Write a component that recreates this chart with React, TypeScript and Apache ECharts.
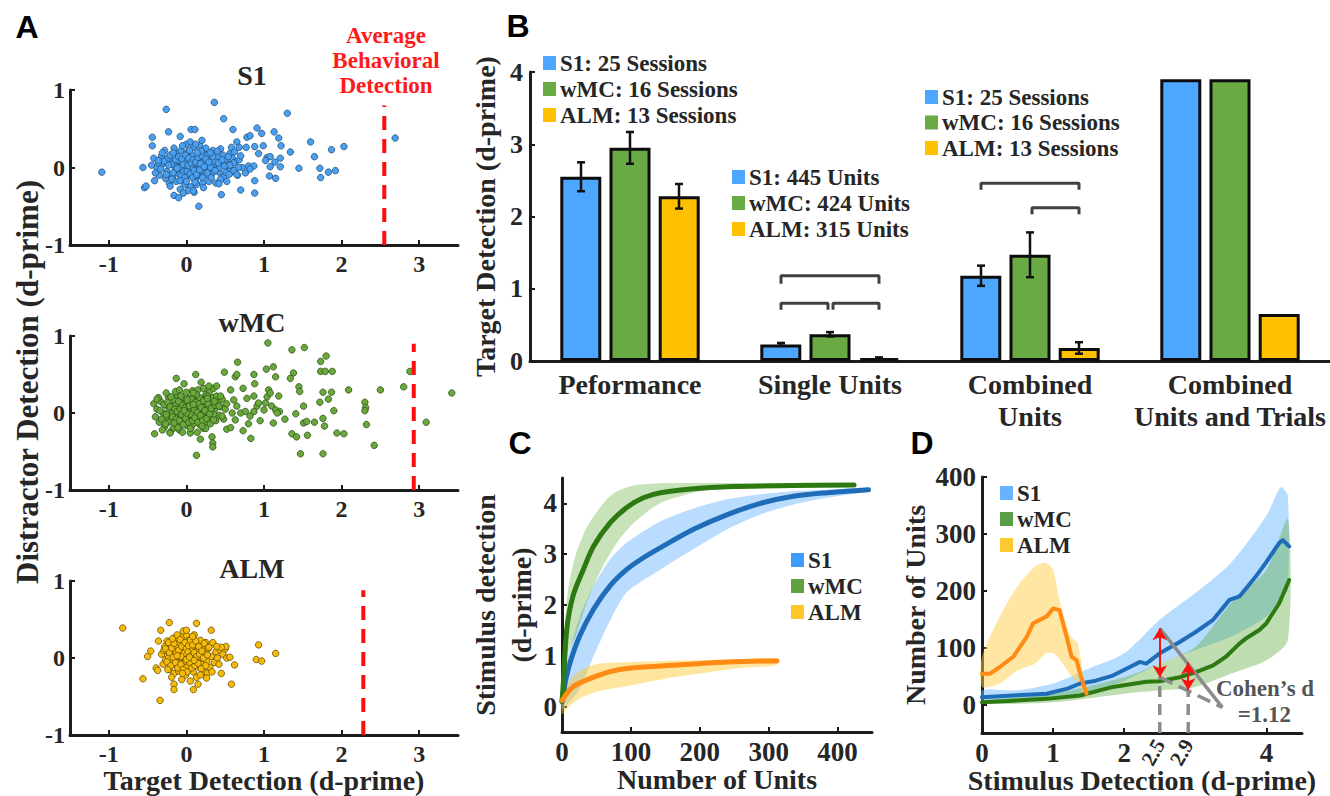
import React, { useEffect, useRef } from 'react';
import * as echarts from 'echarts';

const SERIF = "'Liberation Serif', 'Times New Roman', Times, serif";
const SANS = "'Liberation Sans', Arial, Helvetica, sans-serif";
const INK = '#262626';
const AXIS = '#1c1c1c';

const regionNames = ['S1', 'wMC', 'ALM'];

// ---------------- Panel A : single-unit target vs distractor d-prime ----------------
const s1Points: number[][] = [
  [-0.3, 0.05], [-0.25, -0.05], [-0.2, 0.1], [-0.18, -0.12], [-0.15, 0.02], [-0.12, 0.18], [-0.1, -0.08], [-0.08, 0.06],
  [-0.05, -0.02], [-0.03, 0.12], [0, 0], [0.02, -0.1], [0.04, 0.08], [0.06, -0.04], [0.08, 0.15], [0.1, 0.02],
  [0.12, -0.15], [0.14, 0.05], [0.16, -0.06], [0.18, 0.1], [0.2, -0.02], [0.22, 0.2], [0.24, -0.1], [0.26, 0.04],
  [0.28, -0.04], [0.3, 0.12], [0.33, -0.08], [0.36, 0.02], [0.4, 0.14], [0.42, -0.06], [0.45, 0.06], [0.48, -0.12],
  [0.5, 0.1], [0.53, 0.0], [0.56, 0.18], [0.6, -0.05], [0.63, 0.08], [0.66, -0.1], [-0.35, -0.1], [-0.32, 0.15],
  [-0.28, 0.22], [-0.22, -0.2], [-0.16, 0.25], [-0.13, -0.18], [-0.07, 0.22], [-0.02, -0.22], [0.01, 0.2], [0.05, -0.25],
  [0.09, 0.26], [0.13, -0.22], [0.17, 0.28], [0.21, -0.2], [0.25, 0.25], [0.29, -0.18], [0.34, 0.22], [0.38, -0.2],
  [0.44, 0.24], [0.52, -0.18], [0.58, 0.26], [-0.06, 0.03], [-0.04, -0.05], [-0.01, 0.07], [0.03, 0.02], [0.07, -0.01],
  [-0.09, 0.0], [-0.11, 0.09], [0.11, 0.1], [0.15, -0.1], [-0.14, -0.03], [-0.19, 0.04], [-0.24, 0.12], [-0.27, -0.14],
  [0.19, 0.0], [0.23, 0.08], [0.27, 0.16], [0.31, 0.0], [0.35, 0.08], [0.39, -0.02], [0.43, 0.0], [0.47, 0.16],
  [0.51, -0.06], [0.55, 0.04], [0.59, 0.12], [0.62, 0.2], [0.68, 0.1], [0.72, 0.0], [0.7, 0.15], [-0.38, 0.0],
  [-0.42, 0.12], [0.0, 0.3], [0.05, 0.33], [-0.05, 0.28], [0.12, 0.3], [0.2, 0.35], [0.1, -0.32], [0.02, -0.3],
  [-0.08, -0.28],
  [-0.33, -0.02], [-0.29, 0.08], [-0.26, -0.09], [-0.23, 0.03], [-0.21, 0.16], [-0.17, -0.07], [-0.14, 0.1], [-0.12, -0.01],
  [-0.1, 0.14], [-0.07, -0.11], [-0.06, 0.11], [-0.04, 0.04], [-0.02, -0.13], [-0.01, 0.16], [0.01, -0.05], [0.02, 0.03],
  [0.03, 0.12], [0.05, -0.08], [0.06, 0.06], [0.08, -0.13], [0.09, 0.1], [0.1, -0.04], [0.12, 0.07], [0.13, -0.09],
  [0.15, 0.13], [0.17, -0.03], [0.18, 0.05], [0.2, 0.15], [0.21, -0.13], [0.23, 0.01], [0.25, 0.11], [0.27, -0.07],
  [0.29, 0.07], [0.32, -0.13], [0.34, 0.14], [0.37, -0.04], [0.41, 0.06], [0.44, -0.15], [0.46, 0.1], [0.49, 0.02],
  [-0.17, 0.19], [-0.08, -0.17], [0.04, 0.22], [0.11, -0.19], [0.19, 0.21], [0.31, 0.19], [0.4, 0.21], [0.54, 0.14],
  [0.57, -0.02], [0.61, 0.06], [-0.36, 0.06], [-0.31, 0.19], [-0.19, -0.15], [0.0, -0.18], [0.14, 0.19],
  [-1.09, -0.06], [-0.56, 0], [-0.54, -0.26], [-0.52, -0.24], [-0.44, 0.39], [-0.44, 0.28], [-0.4, -0.07], [-0.41, -0.17],
  [-0.36, 0.09], [-0.45, 0.03], [-0.26, 0.75], [-0.23, 0.46], [-0.16, -0.36], [-0.1, -0.39], [-0.21, -0.24], [-0.04, -0.33],
  [-0.08, 0.4], [0.06, 0.49], [0.11, 0.49], [0.16, -0.5], [0.09, -0.3], [0.22, -0.26], [0.36, 0.84], [0.48, 0.63],
  [0.6, 0.49], [0.45, -0.35], [0.42, -0.21], [0.7, -0.29], [0.88, -0.33], [0.88, -0.17], [0.91, 0.51], [0.97, 0.44],
  [1.13, 0.46], [1.19, 0.38], [1.3, 0.7], [1.22, 0.28], [1.34, 0.2], [1.07, -0.11], [1.15, -0.14], [1.45, -0.01],
  [1.6, 0.33], [1.65, 0.14], [1.72, -0.01], [1.73, -0.13], [1.83, -0.06], [1.92, -0.04], [1.87, 0.23], [2.03, 0.27],
  [2.69, 0.38], [0.65, 0.33], [0.78, 0.39], [0.82, 0.41], [0.68, 0.26], [0.77, 0.26], [0.88, 0.27], [0.99, 0.28],
  [0.93, 0.18], [1.04, 0.13], [1.08, 0.14], [1.02, 0.09], [1.21, 0.01], [1.08, 0.01], [1.14, 0.07], [1.21, 0.12],
  [0.8, 0.02], [0.87, 0.02], [0.76, -0.07], [0.82, -0.02], [0.67, 0.0], [0.61, -0.04], [0.56, 0.03], [0.55, -0.09],
  [0.65, -0.09],
];

const wmcPoints: number[][] = [
  [-0.42, 0.12], [-0.4, -0.05], [-0.38, 0.05], [-0.35, -0.12], [-0.33, 0.15], [-0.3, 0.0], [-0.28, -0.18], [-0.27, 0.1],
  [-0.25, -0.06], [-0.23, 0.2], [-0.22, 0.03], [-0.2, -0.1], [-0.19, 0.14], [-0.17, -0.2], [-0.16, 0.06], [-0.15, -0.03],
  [-0.13, 0.24], [-0.12, 0.1], [-0.11, -0.14], [-0.1, 0.02], [-0.09, -0.22], [-0.08, 0.17], [-0.07, -0.06], [-0.06, 0.08],
  [-0.05, -0.12], [-0.04, 0.0], [-0.03, 0.13], [-0.02, -0.04], [-0.01, 0.05], [0, -0.16], [0.01, 0.1], [0.02, -0.02],
  [0.03, 0.19], [0.04, -0.09], [0.05, 0.04], [0.06, -0.19], [0.07, 0.12], [0.08, -0.05], [0.09, 0.07], [0.1, -0.12],
  [0.11, 0.22], [0.12, 0.0], [0.13, -0.08], [0.14, 0.15], [0.15, -0.02], [0.16, 0.09], [0.17, -0.15], [0.18, 0.03],
  [0.19, 0.18], [0.2, -0.07], [0.21, 0.06], [0.22, -0.2], [0.23, 0.13], [0.24, -0.01], [0.25, 0.24], [0.26, -0.11],
  [0.27, 0.08], [0.28, -0.04], [0.29, 0.16], [0.3, 0.01], [0.31, -0.14], [0.32, 0.11], [0.33, -0.06], [0.34, 0.2],
  [0.36, 0.04], [0.38, -0.1], [0.4, 0.14], [0.42, -0.03], [0.44, 0.08], [0.46, 0.18], [-0.36, 0.2], [-0.31, -0.22],
  [-0.26, 0.26], [-0.21, -0.25], [-0.14, 0.28], [-0.09, 0.3], [0.0, 0.27], [0.08, 0.29], [0.15, 0.3], [0.22, 0.32],
  [0.3, 0.28], [0.05, -0.26], [-0.05, -0.25], [0.14, -0.25], [0.25, -0.2], [-0.18, 0.0], [-0.14, 0.12], [-0.03, -0.1],
  [0.06, 0.15], [0.12, 0.05], [0.17, 0.2], [0.2, 0.1], [-0.06, 0.2], [0.0, 0.08], [-0.1, -0.05], [0.09, -0.14],
  [0.26, 0.18], [0.35, -0.02], [0.39, 0.22], [0.48, -0.08], [0.5, 0.05], [0.52, 0.12],
  [-0.34, 0.03], [-0.32, -0.08], [-0.29, 0.11], [-0.26, -0.02], [-0.24, 0.14], [-0.23, -0.12], [-0.21, 0.08], [-0.18, -0.05],
  [-0.17, 0.17], [-0.15, 0.05], [-0.13, -0.08], [-0.12, 0.02], [-0.1, 0.15], [-0.09, -0.1], [-0.08, 0.05], [-0.06, -0.02],
  [-0.05, 0.1], [-0.04, -0.15], [-0.02, 0.07], [-0.01, -0.07], [0.01, 0.15], [0.02, 0.01], [0.03, -0.12], [0.04, 0.09],
  [0.06, -0.02], [0.07, 0.18], [0.08, -0.1], [0.1, 0.04], [0.11, -0.06], [0.12, 0.14], [0.14, 0.01], [0.15, -0.12],
  [0.16, 0.12], [0.18, -0.03], [0.19, 0.07], [0.21, -0.1], [0.22, 0.16], [0.24, 0.03], [0.26, -0.07], [0.28, 0.12],
  [0.3, -0.01], [0.32, 0.06], [0.35, -0.09], [0.37, 0.1], [-0.27, -0.14], [-0.2, 0.21], [-0.07, 0.22], [0.05, -0.2],
  [0.13, 0.24], [0.2, -0.17], [0.27, 0.22], [-0.11, -0.19], [0.0, 0.0], [-0.03, 0.03], [0.09, 0.11], [-0.16, -0.13],
  [-0.41, -0.27], [-0.38, 0.18], [-0.21, -0.26], [-0.13, 0.45], [-0.03, 0.38], [0.12, 0.5], [0.13, -0.55], [0.18, -0.34],
  [0.33, -0.31], [0.34, -0.39], [0.34, -0.44], [0.19, 0.4], [0.49, 0.53], [0.66, 0.66], [0.63, 0.47], [0.65, 0.5],
  [0.73, 0.32], [0.87, 0.5], [0.88, 0.38], [1.05, 0.91], [1.03, 0.57], [1.12, 0.6], [1.15, 0.47], [1.06, 0.3],
  [1.19, 0.22], [0.83, -0.33], [0.73, -0.23], [0.52, -0.21], [0.57, -0.19], [0.8, -0.14], [0.95, -0.1], [1.12, -0.13],
  [1.27, -0.08], [1.2, 0.02], [1.36, 0.82], [1.52, 0.85], [1.38, 0.52], [1.34, 0.45], [1.45, 0.34], [1.46, 0.28],
  [1.41, -0.01], [1.36, -0.27], [1.42, -0.31], [1.47, -0.53], [1.51, 0.09], [1.51, -0.13], [1.55, -0.11], [1.56, -0.29],
  [1.65, -0.12], [1.73, 0.67], [1.8, 0.74], [1.73, 0.54], [1.79, 0.54], [1.88, 0.54], [1.76, 0.27], [1.87, 0.27],
  [1.72, 0.14], [1.83, 0.18], [1.76, -0.07], [1.78, -0.17], [1.9, 0.03], [1.76, -0.53], [1.94, -0.26], [2.03, -0.27],
  [2.09, 0.3], [2.3, 0.14], [2.31, 0.07], [2.3, 0.03], [2.32, -0.15], [2.42, -0.42], [2.5, 0.3], [2.8, 0.34],
  [2.88, 0.54], [3.09, -0.12], [3.42, 0.26],
  [0.57, 0.3], [0.61, 0.17], [0.65, 0.09], [0.59, 0.0], [0.7, 0.0], [0.76, 0.02], [0.78, 0.19], [0.87, 0.22],
  [0.91, 0.09], [0.93, 0.13], [1.0, 0.04], [1.02, 0.13], [1.04, 0.21], [1.08, 0.26], [1.1, 0.09], [1.15, 0.04],
  [1.17, 0.0], [0.87, 0.02], [0.82, -0.04], [0.63, -0.09], [0.46, -0.04], [0.42, 0.09], [0.44, 0.22], [0.35, 0.32],
  [0.29, 0.35], [0.39, 0.35], [0.27, 0.19], [0.36, 0.15], [0.09, 0.26], [0.01, 0.17],
];

const almPoints: number[][] = [
  [-0.32, 0.05], [-0.3, -0.08], [-0.28, 0.15], [-0.27, -0.02], [-0.25, 0.22], [-0.24, 0.08], [-0.22, -0.15], [-0.21, 0.03],
  [-0.2, 0.18], [-0.18, -0.06], [-0.17, 0.11], [-0.16, -0.2], [-0.15, 0.26], [-0.14, 0.0], [-0.13, -0.1], [-0.12, 0.14],
  [-0.11, 0.05], [-0.1, -0.17], [-0.09, 0.2], [-0.08, -0.03], [-0.07, 0.09], [-0.06, -0.12], [-0.05, 0.28], [-0.04, 0.02],
  [-0.03, -0.07], [-0.02, 0.16], [-0.01, -0.22], [0, 0.06], [0.01, -0.01], [0.02, 0.21], [0.03, -0.14], [0.04, 0.1],
  [0.05, 0.0], [0.06, -0.09], [0.07, 0.25], [0.08, 0.04], [0.09, -0.18], [0.1, 0.13], [0.11, -0.05], [0.12, 0.08],
  [0.13, -0.25], [0.14, 0.18], [0.15, -0.02], [0.16, 0.1], [0.17, -0.12], [0.18, 0.23], [0.19, 0.01], [0.2, -0.08],
  [0.21, 0.15], [0.22, -0.18], [0.24, 0.06], [0.26, -0.04], [0.28, 0.12], [0.3, -0.12], [0.32, 0.02], [0.34, 0.2],
  [0.36, -0.06], [0.38, 0.08], [0.4, 0.0], [-0.19, -0.25], [-0.06, -0.28], [0.05, -0.3], [0.0, 0.3], [-0.12, 0.3],
  [0.1, 0.3], [-0.02, 0.0], [0.03, 0.05], [-0.05, 0.1], [0.06, 0.12], [-0.09, -0.08], [0.08, -0.06], [-0.15, 0.07],
  [0.14, 0.03], [0.0, -0.12], [-0.03, 0.12], [0.11, 0.2], [-0.23, 0.0], [0.25, 0.2], [0.27, -0.2], [-0.29, 0.1],
  [0.33, -0.18], [0.44, 0.1], [0.47, 0.05], [0.5, 0.12], [0.42, -0.08],
  [-0.27, 0.12], [-0.25, -0.05], [-0.23, 0.2], [-0.22, 0.07], [-0.2, -0.1], [-0.19, 0.13], [-0.17, 0.01], [-0.16, 0.19],
  [-0.14, -0.06], [-0.13, 0.08], [-0.11, -0.13], [-0.1, 0.1], [-0.09, 0.02], [-0.08, 0.24], [-0.07, -0.08], [-0.06, 0.15],
  [-0.04, -0.15], [-0.03, 0.06], [-0.02, 0.2], [-0.01, -0.04], [0, 0.12], [0.01, -0.18], [0.02, 0.08], [0.03, 0.16],
  [0.04, -0.06], [0.05, 0.23], [0.06, 0.03], [0.07, -0.13], [0.08, 0.17], [0.09, -0.01], [0.1, 0.07], [0.11, -0.1],
  [0.12, 0.22], [0.13, 0.02], [0.15, -0.07], [0.16, 0.15], [0.17, 0.05], [0.19, -0.14], [0.2, 0.09], [0.22, 0.0],
  [0.23, 0.19], [0.25, -0.1], [0.27, 0.04], [0.29, 0.14], [-0.07, 0.02], [0.0, -0.02], [0.04, 0.01], [-0.12, 0.03],
  [0.1, -0.03], [-0.05, -0.2], [0.08, 0.28], [-0.18, 0.25], [0.18, -0.22], [-0.24, -0.15],
  [-0.82, 0.39], [-0.56, -0.27], [-0.5, 0.02], [-0.46, 0.09], [-0.39, -0.13], [-0.37, -0.16], [-0.34, -0.55], [-0.33, 0.36],
  [-0.36, 0.22], [-0.22, 0.46], [-0.16, -0.34], [-0.16, -0.41], [-0.04, 0.35], [0, 0.36], [0.13, 0.45], [0.32, 0.36],
  [0.09, -0.41], [0.15, -0.34], [0.26, -0.26], [0.45, -0.2], [0.58, -0.34], [0.62, -0.09], [0.51, 0.15], [0.45, 0.14],
  [0.39, 0.15], [0.52, 0.0], [0.56, 0.01], [0.93, 0.17], [0.9, -0.02], [0.97, -0.04], [1.15, 0.06],
];

const behavioralDetection = [2.55, 2.93, 2.28];
const behavioralLineTop = [0.8, 0.9, 0.88];
const aXTicks = [-1, 0, 1, 2, 3];

// ---------------- Panel B : target detection bars ----------------
const barCategories = ['Peformance', 'Single Units', 'Combined\nUnits', 'Combined\nUnits and Trials'];
const s1Bars = [2.55, 0.23, 1.18, 3.9];
const wmcBars = [2.95, 0.37, 1.47, 3.9];
const almBars = [2.28, 0.04, 0.18, 0.65];
const s1Errs = [0.2, 0.02, 0.14, null];
const wmcErrs = [0.22, 0.03, 0.31, null];
const almErrs = [0.17, 0.01, 0.08, null];
const sessionLegend = ['S1: 25 Sessions', 'wMC: 16 Sessions', 'ALM: 13 Sessions'];
const unitLegend = ['S1: 445 Units', 'wMC: 424 Units', 'ALM: 315 Units'];
// significance brackets: [xStart, xEnd, yBar, yTip] in the hidden 0..4 band axis
const brackets = [
  [1.255, 1.745, 1.18, 1.07],
  [1.255, 1.49, 0.8, 0.71],
  [1.515, 1.745, 0.8, 0.71],
  [2.255, 2.745, 2.46, 2.37],
  [2.51, 2.745, 2.12, 2.03],
];

// ---------------- Panel C : detection vs number of units ----------------
const cS1X = [0, 2, 5, 12, 26, 46, 70, 94, 118, 143, 191, 240, 288, 336, 385, 445];
const cS1Y = [0.1, 0.22, 0.5, 0.88, 1.4, 1.92, 2.38, 2.7, 2.93, 3.13, 3.49, 3.78, 4.0, 4.14, 4.21, 4.27];
const cS1BandX = [0, 7, 26, 46, 70, 94, 143, 191, 240, 288, 336, 385, 445];
const cS1Up = [0.4, 0.9, 1.79, 2.38, 2.9, 3.23, 3.65, 3.9, 4.08, 4.18, 4.24, 4.27, 4.3];
const cS1Lo = [-0.05, 0.03, 0.35, 1.0, 1.7, 2.25, 2.7, 3.1, 3.49, 3.78, 3.98, 4.11, 4.24];
const cWmcX = [0, 2, 7, 16, 31, 46, 70, 94, 118, 143, 191, 240, 336, 424];
const cWmcY = [0.1, 0.48, 1.53, 2.18, 2.7, 3.16, 3.62, 3.92, 4.11, 4.21, 4.29, 4.33, 4.35, 4.36];
const cWmcBandX = [0, 5, 10, 20, 35, 50, 65, 80, 100, 125, 150, 200, 250, 300, 424];
const cWmcUp = [0.5, 1.8, 2.4, 3.0, 3.5, 3.82, 4.08, 4.24, 4.34, 4.38, 4.4, 4.4, 4.4, 4.4, 4.4];
const cWmcLo = [0.1, 0.8, 1.1, 1.4, 2.0, 2.5, 2.9, 3.23, 3.56, 3.85, 4.05, 4.24, 4.3, 4.33, 4.35];
const cAlmX = [0, 16, 46, 70, 94, 143, 191, 240, 312];
const cAlmY = [0.12, 0.39, 0.58, 0.69, 0.75, 0.8, 0.84, 0.88, 0.9];
const cAlmBandX = [0, 10, 25, 50, 100, 150, 200, 250, 312];
const cAlmUp = [0.25, 0.5, 0.7, 0.84, 0.88, 0.9, 0.91, 0.93, 0.95];
const cAlmLo = [-0.15, 0.0, 0.15, 0.29, 0.42, 0.55, 0.65, 0.75, 0.82];

// ---------------- Panel D : units vs stimulus detection ----------------
const dS1X = [0, 0.44, 0.91, 1.2, 1.38, 1.6, 1.84, 2.08, 2.22, 2.31, 2.5, 2.78, 3.01, 3.25, 3.48, 3.62, 3.85, 3.99, 4.18, 4.23, 4.32];
const dS1Y = [13, 16, 19, 28, 37, 42, 51, 66, 75, 72, 90, 110, 128, 149, 184, 190, 225, 249, 284, 289, 278];
const dS1BandX = [0, 0.5, 1, 1.5, 2, 2.5, 3, 3.5, 4, 4.2, 4.3];
const dS1Up = [25, 25, 37, 63, 90, 149, 196, 249, 332, 382, 367];
const dS1Lo = [7, 8, 13, 22, 42, 72, 96, 119, 155, 185, 202];
const dWmcX = [0, 0.91, 1.38, 1.84, 2.31, 2.5, 2.78, 3.01, 3.25, 3.43, 3.62, 3.71, 3.9, 4.0, 4.18, 4.32];
const dWmcY = [4, 10, 16, 31, 40, 41, 48, 57, 69, 84, 107, 116, 131, 143, 178, 219];
const dWmcBandX = [0, 1, 2, 2.5, 3, 3.5, 4, 4.3];
const dWmcUp = [7, 19, 48, 72, 101, 178, 237, 326];
const dWmcLo = [1, 4, 19, 25, 31, 54, 78, 113];
const dAlmX = [0, 0.11, 0.25, 0.44, 0.63, 0.72, 0.91, 1.0, 1.09, 1.19, 1.26, 1.33, 1.38, 1.47];
const dAlmY = [54, 54, 66, 84, 119, 143, 155, 169, 166, 119, 84, 78, 54, 19];
const dAlmBandX = [0, 0.25, 0.5, 0.75, 0.9, 1.0, 1.1, 1.25, 1.35, 1.45];
const dAlmUp = [84, 155, 208, 243, 249, 237, 178, 119, 107, 19];
const dAlmLo = [31, 37, 60, 72, 90, 90, 78, 51, 37, 13];
const cohenMarks = [2.5, 2.9];
const cohenArrows = [[2.5, 134, 48], [2.9, 74, 25]];
const cohenApex = [3.38, -5];
const cohenText = ['Cohen’s d', '=1.12'];

const barColors = ['#4da6ff', '#6aaa45', '#ffc000'];

function zip(xs: number[], ys: number[]) {
  return xs.map((x, i) => [x, ys[i]]);
}

function boldText(size: number, extra: any = {}) {
  return { color: INK, fontFamily: SERIF, fontWeight: 'bold', fontSize: size, ...extra };
}

function axisStyle(labelSize: number, labelExtra: any = {}) {
  return {
    axisLine: { show: true, onZero: false, lineStyle: { color: AXIS, width: 3 } },
    axisTick: { show: true, inside: true, length: 5, lineStyle: { color: AXIS, width: 2 } },
    splitLine: { show: false },
    axisLabel: { ...boldText(labelSize), ...labelExtra },
  };
}

function bandSeries(xs: number[], up: number[], lo: number[], color: string, xi: number, yi: number) {
  return {
    type: 'custom',
    xAxisIndex: xi,
    yAxisIndex: yi,
    silent: true,
    z: 1,
    data: xs.map((x, i) => [x, up[i], lo[i]]),
    encode: { x: 0, y: [1, 2] },
    renderItem: (params: any, api: any) => {
      if (params.dataIndex !== 0) return { type: 'group', children: [] };
      const pts: number[][] = [];
      xs.forEach((x, i) => pts.push(api.coord([x, up[i]])));
      for (let i = xs.length - 1; i >= 0; i--) pts.push(api.coord([xs[i], lo[i]]));
      return { type: 'polygon', shape: { points: pts, smooth: 0.25 }, style: { fill: color } };
    },
  };
}

function errSeries(vals: number[], errs: (number | null)[], offset: number) {
  const data: number[][] = [];
  vals.forEach((v, i) => {
    const e = errs[i];
    if (e != null) data.push([i + 0.5 + offset, v, e]);
  });
  return {
    type: 'custom',
    xAxisIndex: 4,
    yAxisIndex: 3,
    z: 6,
    silent: true,
    data,
    encode: { x: 0, y: 1 },
    renderItem: (params: any, api: any) => {
      const x = api.value(0);
      const v = api.value(1);
      const e = api.value(2);
      const top = api.coord([x, v + e]);
      const bot = api.coord([x, v - e]);
      const cap = 4;
      const st = { stroke: '#111', lineWidth: 2.5 };
      return {
        type: 'group',
        children: [
          { type: 'line', shape: { x1: top[0], y1: top[1], x2: bot[0], y2: bot[1] }, style: st },
          { type: 'line', shape: { x1: top[0] - cap, y1: top[1], x2: top[0] + cap, y2: top[1] }, style: st },
          { type: 'line', shape: { x1: bot[0] - cap, y1: bot[1], x2: bot[0] + cap, y2: bot[1] }, style: st },
        ],
      };
    },
  };
}

function legendBlock(x: number, y0: number, dy: number, labels: string[], colors: string[], size = 23) {
  const out: any[] = [];
  labels.forEach((label, i) => {
    const y = y0 + i * dy;
    out.push({ type: 'rect', shape: { x, y: y - 7, width: 13, height: 14 }, style: { fill: colors[i] } });
    out.push({
      type: 'text',
      x: x + 17,
      y,
      style: {
        text: label, fill: INK, fontFamily: SERIF, fontWeight: 'bold', fontSize: size,
        align: 'left', verticalAlign: 'middle',
      },
    });
  });
  return out;
}

function textEl(text: string, x: number, y: number, size: number, opts: any = {}) {
  const { family = SERIF, fill = INK, rotation = 0, lineHeight } = opts;
  return {
    type: 'text',
    x,
    y,
    rotation,
    style: {
      text, fill, fontFamily: family, fontWeight: 'bold', fontSize: size,
      align: 'center', verticalAlign: 'middle', lineHeight,
    },
  };
}

export default function App() {
  const ref = useRef<HTMLDivElement>(null);

  useEffect(() => {
    if (!ref.current) return;
    const chart = echarts.init(ref.current, undefined, { renderer: 'svg' });

    const aGrids = [
      { left: 70, top: 90, width: 388, height: 155 },
      { left: 70, top: 336, width: 388, height: 154 },
      { left: 70, top: 581, width: 388, height: 154 },
    ];
    const scatterSets = [s1Points, wmcPoints, almPoints];
    const scatterFill = ['#4a9ff0', '#6aa83c', '#f6bb0a'];
    const scatterBorder = ['#24547f', '#2f5419', '#6b4f00'];
    const titleY = [75, 322, 568];

    const xAxes: any[] = [];
    const yAxes: any[] = [];
    aGrids.forEach((_, k) => {
      xAxes.push({
        type: 'value', gridIndex: k, min: -1.5, max: 3.5,
        ...axisStyle(24, { margin: 7, customValues: aXTicks }),
        axisTick: { show: true, inside: true, length: 5, lineStyle: { color: AXIS, width: 2 }, customValues: aXTicks },
        name: k === 2 ? 'Target Detection (d-prime)' : '',
        nameLocation: 'middle',
        nameGap: 27,
        nameTextStyle: boldText(28),
      });
      yAxes.push({
        type: 'value', gridIndex: k, min: -1, max: 1, interval: 1,
        ...axisStyle(24, { margin: 5 }),
      });
    });

    // B: category axis + hidden numeric band axis
    xAxes.push({
      type: 'category', gridIndex: 3, data: barCategories,
      axisLine: { show: true, onZero: false, lineStyle: { color: AXIS, width: 3 } },
      axisTick: { show: false },
      axisLabel: { ...boldText(28), lineHeight: 32, margin: 7, interval: 0 },
    });
    xAxes.push({ type: 'value', gridIndex: 3, min: 0, max: 4, show: false });
    yAxes.push({
      type: 'value', gridIndex: 3, min: 0, max: 4, interval: 1,
      ...axisStyle(26, { margin: 7 }),
      name: 'Target Detection (d-prime)', nameLocation: 'middle', nameGap: 25,
      nameTextStyle: boldText(28),
    });

    // C
    const cTicks = [0, 100, 200, 300, 400];
    const cYTicks = [0, 1, 2, 3, 4];
    xAxes.push({
      type: 'value', gridIndex: 4, min: 0, max: 450,
      ...axisStyle(27, { margin: 6, customValues: cTicks }),
      axisTick: { show: true, inside: true, length: 5, lineStyle: { color: AXIS, width: 2 }, customValues: cTicks },
      name: 'Number of Units', nameLocation: 'middle', nameGap: 33, nameTextStyle: boldText(28),
    });
    yAxes.push({
      type: 'value', gridIndex: 4, min: -0.5, max: 4.5,
      ...axisStyle(27, { margin: 5, customValues: cYTicks }),
      axisTick: { show: true, inside: true, length: 5, lineStyle: { color: AXIS, width: 2 }, customValues: cYTicks },
      name: 'Stimulus detection\n(d-prime)', nameLocation: 'middle', nameGap: 13,
      nameTextStyle: boldText(28, { lineHeight: 36 }),
    });

    // D
    const dTicks = [0, 1, 2, 4];
    const dYTicks = [0, 100, 200, 300, 400];
    xAxes.push({
      type: 'value', gridIndex: 5, min: 0, max: 4.5,
      ...axisStyle(27, { margin: 6, customValues: dTicks }),
      axisTick: { show: true, inside: true, length: 5, lineStyle: { color: AXIS, width: 2 }, customValues: dTicks },
      name: 'Stimulus Detection (d-prime)', nameLocation: 'middle', nameGap: 33, nameTextStyle: boldText(28),
    });
    xAxes.push({
      type: 'value', gridIndex: 5, min: 0, max: 4.5, position: 'bottom',
      axisLine: { show: false }, axisTick: { show: false }, splitLine: { show: false },
      axisLabel: { ...boldText(21), rotate: 60, margin: 8, customValues: cohenMarks },
    });
    yAxes.push({
      type: 'value', gridIndex: 5, min: -50, max: 400,
      ...axisStyle(27, { margin: 6, customValues: dYTicks }),
      axisTick: { show: true, inside: true, length: 5, lineStyle: { color: AXIS, width: 2 }, customValues: dYTicks },
      name: 'Number of Units', nameLocation: 'middle', nameGap: 53, nameTextStyle: boldText(28),
    });

    const series: any[] = [];

    // A scatter + behavioral line
    scatterSets.forEach((pts, k) => {
      series.push({
        name: regionNames[k],
        type: 'scatter', xAxisIndex: k, yAxisIndex: k, data: pts, symbolSize: 6.5,
        itemStyle: { color: scatterFill[k], borderColor: scatterBorder[k], borderWidth: 0.8, opacity: 1 },
        z: 3,
      });
      series.push({
        type: 'line', xAxisIndex: k, yAxisIndex: k,
        data: [[behavioralDetection[k], -1], [behavioralDetection[k], behavioralLineTop[k]]],
        showSymbol: false, symbol: 'none',
        lineStyle: { color: '#ff0d0d', width: 4, type: [14, 9] }, z: 4, silent: true,
      });
    });

    // B bars
    const barSets = [s1Bars, wmcBars, almBars];
    const errSets = [s1Errs, wmcErrs, almErrs];
    const offsets = [-0.245, 0, 0.245];
    barSets.forEach((vals, k) => {
      series.push({
        name: regionNames[k],
        type: 'bar', xAxisIndex: 3, yAxisIndex: 3, data: vals,
        barWidth: 41, barGap: '20%',
        itemStyle: { color: barColors[k], borderColor: '#0d0d0d', borderWidth: 3 },
        z: 3,
      });
    });
    barSets.forEach((vals, k) => series.push(errSeries(vals, errSets[k], offsets[k])));
    brackets.forEach(([x1, x2, yb, yt]) => {
      series.push({
        type: 'line', xAxisIndex: 4, yAxisIndex: 3,
        data: [[x1, yt], [x1, yb], [x2, yb], [x2, yt]],
        showSymbol: false, symbol: 'none', silent: true,
        lineStyle: { color: '#404040', width: 3 }, z: 5,
      });
    });

    // C bands and lines
    series.push(bandSeries(cS1BandX, cS1Up, cS1Lo, 'rgba(102,178,255,0.45)', 5, 4));
    series.push(bandSeries(cWmcBandX, cWmcUp, cWmcLo, 'rgba(110,180,70,0.38)', 5, 4));
    series.push(bandSeries(cAlmBandX, cAlmUp, cAlmLo, 'rgba(255,200,40,0.45)', 5, 4));
    const cLines = [
      [cS1X, cS1Y, '#1f6cb8'],
      [cWmcX, cWmcY, '#2d7a12'],
      [cAlmX, cAlmY, '#ff8a14'],
    ] as any[];
    cLines.forEach(([xs, ys, col], k) => {
      series.push({
        name: regionNames[k], type: 'line', xAxisIndex: 5, yAxisIndex: 4, data: zip(xs, ys),
        showSymbol: false, symbol: 'none', smooth: 0.3,
        lineStyle: { color: col, width: 5, cap: 'round' }, z: 3,
      });
    });

    // D bands and lines
    series.push(bandSeries(dS1BandX, dS1Up, dS1Lo, 'rgba(110,185,255,0.5)', 6, 5));
    series.push(bandSeries(dWmcBandX, dWmcUp, dWmcLo, 'rgba(100,175,70,0.42)', 6, 5));
    series.push(bandSeries(dAlmBandX, dAlmUp, dAlmLo, 'rgba(255,205,70,0.5)', 6, 5));
    const dLines = [
      [dS1X, dS1Y, '#1f6cb8'],
      [dWmcX, dWmcY, '#2d7a12'],
      [dAlmX, dAlmY, '#ff8a14'],
    ] as any[];
    dLines.forEach(([xs, ys, col], k) => {
      series.push({
        name: regionNames[k], type: 'line', xAxisIndex: 6, yAxisIndex: 5, data: zip(xs, ys),
        showSymbol: false, symbol: 'none',
        lineStyle: { color: col, width: 4, cap: 'round', join: 'round' }, z: 3,
      });
    });

    // D Cohen's d annotation
    const gray = '#8c8c8c';
    cohenArrows.forEach(([x, , lo]) => {
      series.push({
        type: 'line', xAxisIndex: 6, yAxisIndex: 5, data: [[x, -50], [x, lo]],
        showSymbol: false, symbol: 'none', silent: true,
        lineStyle: { color: gray, width: 3.5, type: [11, 7] }, z: 4,
      });
    });
    series.push({
      type: 'line', xAxisIndex: 6, yAxisIndex: 5,
      data: [[cohenArrows[0][0], cohenArrows[0][1]], cohenApex],
      showSymbol: false, symbol: 'none', silent: true,
      lineStyle: { color: gray, width: 3.5 }, z: 4,
    });
    series.push({
      type: 'line', xAxisIndex: 6, yAxisIndex: 5,
      data: [[cohenArrows[0][0], cohenArrows[0][2]], cohenApex],
      showSymbol: false, symbol: 'none', silent: true,
      lineStyle: { color: gray, width: 3.5, type: [14, 7] }, z: 4,
    });
    series.push({
      type: 'line', xAxisIndex: 6, yAxisIndex: 5, data: [],
      showSymbol: false, symbol: 'none', silent: true,
      markLine: {
        silent: true, symbol: ['arrow', 'arrow'], symbolSize: [11, 12],
        label: { show: false },
        lineStyle: { color: '#ff1010', width: 2, type: 'solid' },
        data: cohenArrows.map(([x, hi, lo]) => [{ coord: [x, hi] }, { coord: [x, lo] }]),
      },
      z: 6,
    });
    series.push({
      type: 'scatter', xAxisIndex: 6, yAxisIndex: 5, symbolSize: 1, silent: true,
      itemStyle: { color: 'rgba(0,0,0,0)' },
      data: [
        { value: [3.98, 28], label: { formatter: cohenText[0] } },
        { value: [3.97, -17], label: { formatter: cohenText[1] } },
      ],
      label: { show: true, position: 'inside', ...boldText(23) },
      z: 7,
    });

    const bLegendColors = barColors;
    const cLegendColors = ['#3d9bff', '#5fa040', '#ffc629'];
    const dLegendColors = ['#66b3ff', '#5a9e4a', '#ffc830'];

    const graphic: any[] = [
      textEl('A', 27, 27, 32, { family: SANS, fill: '#000' }),
      textEl('B', 518, 26, 32, { family: SANS, fill: '#000' }),
      textEl('C', 520, 443, 32, { family: SANS, fill: '#000' }),
      textEl('D', 922, 443, 32, { family: SANS, fill: '#000' }),
      textEl('Distractor Detection (d-prime)', 27, 382, 31, { rotation: Math.PI / 2 }),
      textEl('Average\nBehavioral\nDetection', 386, 60, 23, { fill: '#ff1a1a', lineHeight: 25 }),
      ...regionNames.map((n, k) => textEl(n, 252, titleY[k], 28)),
      ...legendBlock(543, 63, 26, sessionLegend, bLegendColors),
      ...legendBlock(732, 177, 26, unitLegend, bLegendColors),
      ...legendBlock(925, 97, 25.5, sessionLegend, bLegendColors),
      ...legendBlock(791, 560, 26, regionNames, cLegendColors),
      ...legendBlock(1000, 493, 26, regionNames, dLegendColors),
    ];

    chart.setOption({
      animation: false,
      backgroundColor: '#ffffff',
      grid: [
        ...aGrids,
        { left: 530, top: 72, width: 800, height: 289 },
        { left: 562, top: 478, width: 310, height: 254 },
        { left: 982, top: 477, width: 320, height: 256 },
      ],
      xAxis: xAxes,
      yAxis: yAxes,
      series,
      graphic,
    });

    return () => chart.dispose();
  }, []);

  return (
    <div
      ref={ref}
      style={{ position: 'absolute', left: 0, top: 0, width: 1330, height: 796, background: '#fff' }}
    />
  );
}
